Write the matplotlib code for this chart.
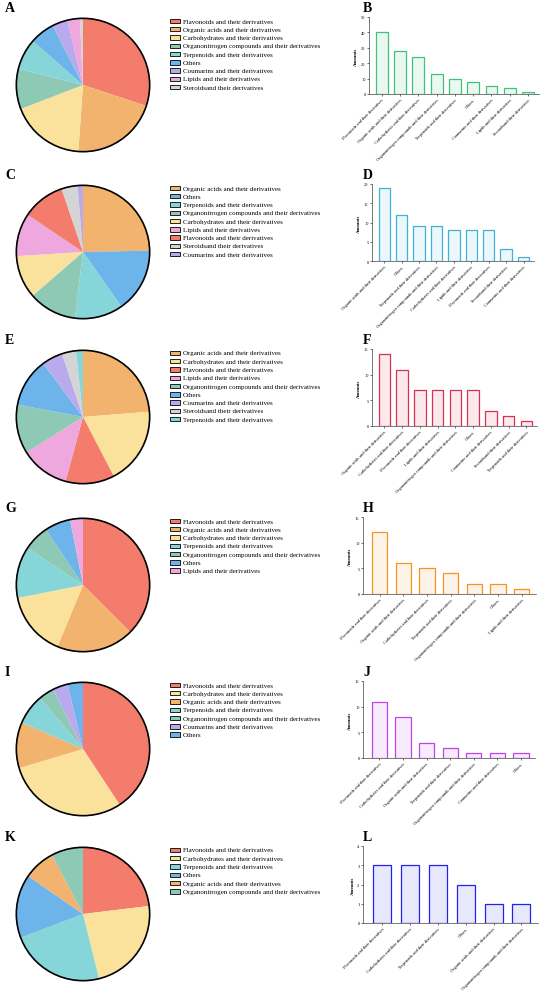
import matplotlib
matplotlib.use('Agg')
import matplotlib.pyplot as plt
from matplotlib.patches import Rectangle, Circle
from matplotlib.colors import to_rgba

plt.rcParams['font.family'] = ['Liberation Serif', 'DejaVu Serif']

FLA = 'Flavonoids and their derivatives'
ORG = 'Organic acids and their derivatives'
CAR = 'Carbohydrates and their derivatives'
NIT = 'Organonitrogen compounds and their derivatives'
TER = 'Terpenoids and their derivatives'
OTH = 'Others'
COU = 'Coumarins and their derivatives'
LIP = 'Lipids and their derivatives'
STE = 'Steroidsand their derivatives'

class_colors = {
    FLA: '#F47C6C', ORG: '#F2B36F', CAR: '#FAE29C', NIT: '#8DC9B5',
    TER: '#86D5D8', OTH: '#6DB4EB', COU: '#B8AAEC', LIP: '#EEA8DD',
    STE: '#D4D4D4',
}

# panel A / B
labels_ab = [FLA, ORG, CAR, NIT, TER, OTH, COU, LIP, STE]
counts_ab = [40, 28, 24, 13, 10, 8, 5, 4, 1]
# panel C / D
labels_cd = [ORG, OTH, TER, NIT, CAR, LIP, FLA, STE, COU]
counts_cd = [19, 12, 9, 9, 8, 8, 8, 3, 1]
# panel E / F
labels_ef = [ORG, CAR, FLA, LIP, NIT, OTH, COU, STE, TER]
counts_ef = [14, 11, 7, 7, 7, 7, 3, 2, 1]
# panel G / H
labels_gh = [FLA, ORG, CAR, TER, NIT, OTH, LIP]
counts_gh = [12, 6, 5, 4, 2, 2, 1]
# panel I / J
labels_ij = [FLA, CAR, ORG, TER, NIT, COU, OTH]
counts_ij = [11, 8, 3, 2, 1, 1, 1]
# panel K / L
labels_kl = [FLA, CAR, TER, OTH, ORG, NIT]
counts_kl = [3, 3, 3, 2, 1, 1]

W, H = 550, 995
fig = plt.figure(figsize=(W / 100, H / 100), dpi=100)


def px_rect(left, top, right, bottom):
    return [left / W, 1 - bottom / H, (right - left) / W, (bottom - top) / H]


panels = [
    ('A', 'B', labels_ab, counts_ab, 86, 369, 539, 50, 10, '#3CC47C'),
    ('C', 'D', labels_cd, counts_cd, 253, 372, 534, 20, 5, '#3BB4D8'),
    ('E', 'F', labels_ef, counts_ef, 418, 372, 537, 15, 5, '#D9304F'),
    ('G', 'H', labels_gh, counts_gh, 586, 363, 536, 15, 5, '#F7931E'),
    ('I', 'J', labels_ij, counts_ij, 750, 363, 535, 15, 5, '#BB44EE'),
    ('K', 'L', labels_kl, counts_kl, 915, 363, 538, 4, 1, '#2222EE'),
]

R = 68
for lp, lb, labels, counts, cy, bl, br, ymax, ystep, bc in panels:
    cx = 83
    # pie
    ax = fig.add_axes(px_rect(cx - R, cy - R, cx + R, cy + R))
    ax.pie(counts, colors=[class_colors[l] for l in labels], startangle=90,
           counterclock=False, wedgeprops=dict(linewidth=0))
    ax.add_patch(Circle((0, 0), 1, fill=False, ec='black', lw=1.2))
    ax.set_xlim(-1.02, 1.02)
    ax.set_ylim(-1.02, 1.02)
    ax.set_aspect('equal')
    ax.axis('off')

    # legend
    for i, lab in enumerate(labels):
        y = cy - 64 + i * 8.27
        fig.patches.append(Rectangle((170 / W, 1 - (y + 2.2) / H), 10 / W, 4.4 / H,
                                     transform=fig.transFigure, fc=class_colors[lab],
                                     ec='black', lw=0.6))
        fig.text(183 / W, 1 - y / H, lab, fontsize=5.0, va='center', ha='left')

    # panel letters
    fig.text(5 / W, 1 - (cy - 74) / H, lp, fontsize=10, fontweight='bold', va='baseline')
    fig.text(363 / W, 1 - (cy - 74) / H, lb, fontsize=10, fontweight='bold', va='baseline')

    # bar chart
    bx = fig.add_axes(px_rect(bl, cy - 68, br, cy + 9))
    x = list(range(len(counts)))
    bx.bar(x, counts, width=0.65, color=to_rgba(bc, 0.1), edgecolor=bc, linewidth=0.9)
    bx.set_xlim(-0.7, len(counts) - 1 + 0.6)
    bx.set_ylim(0, ymax)
    bx.set_yticks(list(range(0, ymax + 1, ystep)))
    bx.set_xticks(x)
    bx.set_xticklabels(labels, rotation=45, ha='right', rotation_mode='anchor', fontsize=3.2)
    bx.tick_params(axis='both', length=1.5, width=0.4, labelsize=3.2, pad=1)
    bx.set_ylabel('Amounts', fontsize=3.4, fontweight='bold', labelpad=2)
    for s in ['top', 'right']:
        bx.spines[s].set_visible(False)
    for s in ['left', 'bottom']:
        bx.spines[s].set_linewidth(0.5)
        bx.spines[s].set_color('#444444')

fig.savefig('out.png', dpi=100)
